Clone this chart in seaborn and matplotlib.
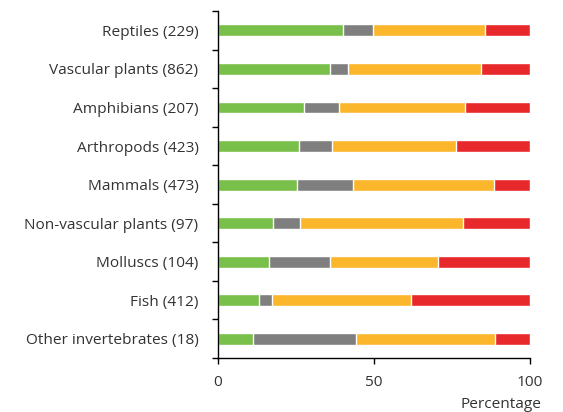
import matplotlib
matplotlib.use("Agg")
import matplotlib.pyplot as plt
import seaborn as sns
import pandas as pd
import numpy as np
from matplotlib.ticker import FixedLocator

categories = ["Reptiles (229)", "Vascular plants (862)", "Amphibians (207)",
              "Arthropods (423)", "Mammals (473)", "Non-vascular plants (97)",
              "Molluscs (104)", "Fish (412)", "Other invertebrates (18)"]
green = [40.1, 36.0, 27.5, 25.9, 25.4, 17.6, 16.3, 13.1, 11.2]
gray = [9.6, 5.7, 11.3, 10.8, 17.9, 8.8, 19.8, 4.3, 33.2]
orange = [36.1, 42.5, 40.5, 39.5, 45.3, 52.1, 34.4, 44.4, 44.6]
red = [14.2, 15.8, 20.7, 23.8, 11.4, 21.5, 29.5, 38.2, 11.0]

sns.set_theme(style="white")
plt.rcParams['font.family'] = ['Open Sans', 'DejaVu Sans']

df = pd.DataFrame({"cat": categories, "green": green, "gray": gray,
                   "orange": orange, "red": red})
df["c1"] = df["green"]
df["c2"] = df["c1"] + df["gray"]
df["c3"] = df["c2"] + df["orange"]
df["c4"] = df["c3"] + df["red"]

fig = plt.figure(figsize=(5.63, 4.12), dpi=100)
ax = fig.add_axes([0.387, 0.131, 0.554, 0.842])

cols = {"c4": "#e8292b", "c3": "#fbb62b", "c2": "#7f7f7f", "c1": "#78c04a"}
for key in ["c4", "c3", "c2", "c1"]:
    sns.barplot(data=df, x=key, y="cat", orient="h", color=cols[key],
                width=0.31, saturation=1, ax=ax, order=categories)

fs = 11.1
ax.set_xlim(0, 100)
ax.set_ylim(8.5, -0.5)
ax.set_xticks([0, 50, 100])
ax.set_xticklabels(["0", "50", "100"])
ax.set_ylabel("")
ax.set_xlabel("")
ax.yaxis.set_minor_locator(FixedLocator(np.arange(-0.5, 9, 1)))
ax.tick_params(axis="y", which="major", length=0, pad=14, labelsize=fs, labelcolor="#333333")
ax.tick_params(axis="y", which="minor", length=4, width=1, color="black", left=True)
ax.tick_params(axis="x", which="major", length=4, width=1, color="black", bottom=True,
               labelsize=fs, labelcolor="#333333", pad=8)
for s in ["top", "right"]:
    ax.spines[s].set_visible(False)
for s in ["left", "bottom"]:
    ax.spines[s].set_color("black")
    ax.spines[s].set_linewidth(1)

fig.text(541/563, 1 - 404/412, "Percentage", ha="right", va="center",
         fontsize=fs, color="#333333")

fig.savefig("out.png", dpi=100)
